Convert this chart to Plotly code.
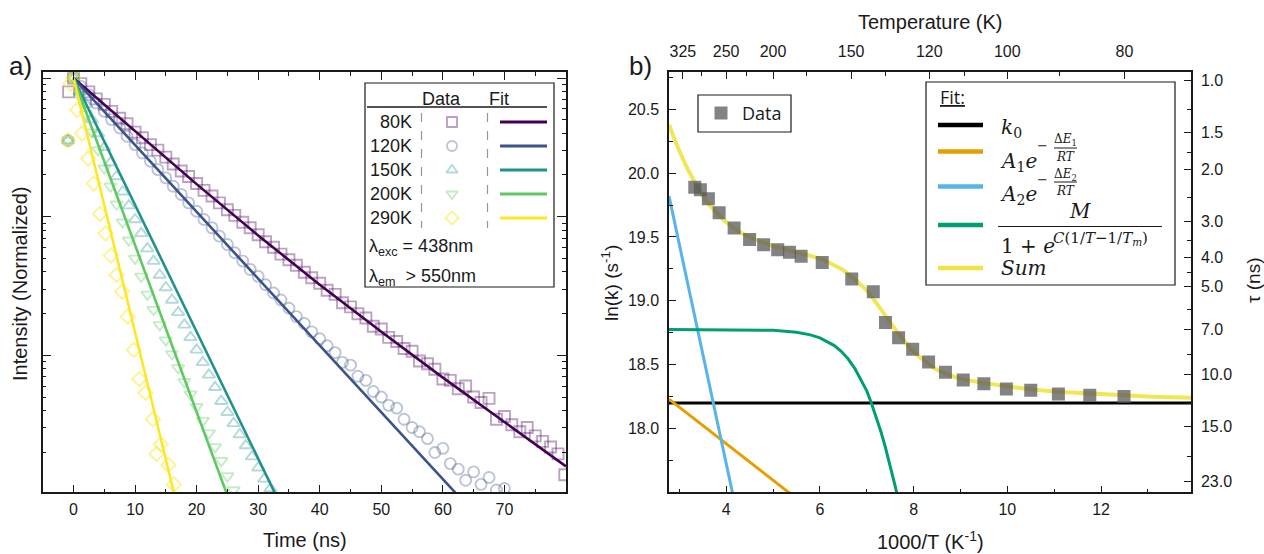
import math
import plotly.graph_objects as go

W, H = 1264, 554


def px(x):
    return x / W


def py(y):
    return 1 - y / H


# ---------------- panel a) : decay traces (time in ns, log10 of normalized intensity) ----------------
t80 = [-0.8, 0.0, 1.2, 2.5, 3.7, 5.0, 6.2, 7.5, 8.7, 10.0, 11.2, 12.5, 13.7, 15.0, 16.2, 17.5, 18.7, 20.0,
       21.2, 22.5, 23.7, 25.0, 26.2, 27.5, 28.7, 30.0, 31.2, 32.5, 33.7, 35.0, 36.2, 37.5, 38.7, 40.0, 41.2,
       42.5, 43.7, 45.0, 46.2, 47.5, 48.7, 50.0, 51.2, 52.5, 53.7, 55.0, 56.2, 57.5, 58.7, 60.0, 61.2, 62.5,
       63.7, 65.0, 66.2, 67.5, 68.7, 70.0, 71.2, 72.5, 73.7, 75.0, 76.2, 77.5, 78.7, 79.8]
log_i80 = [-0.10, 0.0, -0.04, -0.10, -0.15, -0.19, -0.24, -0.29, -0.33, -0.39, -0.43, -0.48, -0.52, -0.57,
           -0.62, -0.67, -0.71, -0.76, -0.81, -0.85, -0.90, -0.95, -0.99, -1.04, -1.08, -1.13, -1.18, -1.22,
           -1.27, -1.31, -1.35, -1.40, -1.44, -1.48, -1.53, -1.56, -1.62, -1.65, -1.70, -1.73, -1.79, -1.81,
           -1.87, -1.90, -1.95, -1.97, -2.04, -2.06, -2.10, -2.17, -2.18, -2.24, -2.22, -2.30, -2.34, -2.31,
           -2.46, -2.44, -2.50, -2.55, -2.52, -2.58, -2.62, -2.66, -2.71, -2.86]

t120 = [-0.9, 0.0, 1.2, 2.5, 3.7, 5.0, 6.2, 7.5, 8.7, 10.0, 11.2, 12.5, 13.7, 15.0, 16.2, 17.5, 18.7, 20.0,
        21.2, 22.5, 23.7, 25.0, 26.2, 27.5, 28.7, 30.0, 31.2, 32.5, 33.7, 35.0, 36.2, 37.5, 38.7, 40.0, 41.2,
        42.5, 43.7, 45.0, 46.2, 47.5, 48.7, 50.0, 51.2, 52.5, 53.7, 55.0, 56.2, 57.5, 58.7, 60.0, 61.2, 62.5,
        63.7, 65.0, 66.2, 67.5, 68.7, 70.0]
log_i120 = [-0.45, 0.0, -0.06, -0.12, -0.18, -0.24, -0.30, -0.36, -0.42, -0.48, -0.54, -0.60, -0.66, -0.72,
            -0.78, -0.84, -0.90, -0.96, -1.02, -1.08, -1.14, -1.20, -1.26, -1.32, -1.38, -1.43, -1.49, -1.55,
            -1.60, -1.66, -1.72, -1.77, -1.83, -1.88, -1.93, -1.98, -2.05, -2.07, -2.15, -2.18, -2.26, -2.30,
            -2.36, -2.38, -2.46, -2.52, -2.55, -2.60, -2.70, -2.67, -2.78, -2.82, -2.90, -2.84, -2.93, -2.88,
            -2.97, -2.96]

t150 = [-0.9, 0.0, 1.0, 2.0, 3.0, 4.0, 5.0, 6.0, 7.0, 8.0, 9.0, 10.0, 11.0, 12.0, 13.0, 14.0, 15.0, 16.0,
        17.0, 18.0, 19.0, 20.0, 21.0, 22.0, 23.0, 24.0, 25.0, 26.0, 27.0, 28.0, 29.0, 30.0, 31.0, 32.0]
log_i150 = [-0.45, 0.0, -0.10, -0.19, -0.30, -0.40, -0.50, -0.61, -0.71, -0.82, -0.92, -1.02, -1.12, -1.23,
            -1.32, -1.42, -1.51, -1.60, -1.69, -1.78, -1.87, -1.96, -2.05, -2.14, -2.23, -2.33, -2.41, -2.49,
            -2.57, -2.65, -2.73, -2.81, -2.89, -2.96]

t200 = [-0.9, 0.0, 1.0, 2.0, 3.0, 4.0, 5.0, 6.0, 7.0, 8.0, 9.0, 10.0, 11.0, 12.0, 13.0, 14.0, 15.0, 16.0,
        17.0, 18.0, 19.0, 20.0, 21.0, 22.0, 23.0, 24.0, 25.0, 26.0]
log_i200 = [-0.45, 0.0, -0.13, -0.26, -0.39, -0.52, -0.65, -0.78, -0.91, -1.04, -1.17, -1.30, -1.43, -1.56,
            -1.67, -1.78, -1.89, -1.99, -2.09, -2.19, -2.28, -2.37, -2.47, -2.56, -2.66, -2.76, -2.87, -2.97]

t290 = [-0.9, -0.5, 0.0, 0.6, 1.4, 2.4, 3.3, 4.3, 5.2, 6.1, 7.0, 7.9, 8.8, 9.8, 10.7, 11.7, 12.9, 13.5, 14.2,
        15.4, 16.3]
log_i290 = [-0.45, -0.04, 0.0, -0.23, -0.40, -0.58, -0.76, -0.98, -1.12, -1.28, -1.42, -1.54, -1.72, -1.96,
            -2.17, -2.27, -2.46, -2.71, -2.64, -2.79, -2.93]

# fitted decays
fit80_t = [0, 10, 20, 30, 40, 50, 60, 70, 80]
fit80_log = [0.0, -0.385, -0.765, -1.135, -1.49, -1.83, -2.16, -2.48, -2.80]
fit120_t = [0, 64.0]
fit120_log = [0.0, -3.085]
fit150_t = [0, 34.0]
fit150_log = [0.0, -3.11]
fit200_t = [0, 26.0]
fit200_log = [0.0, -3.13]
fit290_t = [0, 17.0]
fit290_log = [0.0, -3.116]

series_names = ["80K", "120K", "150K", "200K", "290K"]
line_colors = ["#440154", "#3b528b", "#21918c", "#5ec962", "#fde725"]
marker_colors = ["rgba(68,1,84,0.36)", "rgba(59,82,139,0.34)", "rgba(33,145,140,0.34)",
                 "rgba(94,201,98,0.36)", "rgba(253,231,37,0.5)"]
symbols = ["square-open", "circle-open", "triangle-up-open", "triangle-down-open", "diamond-open"]
data_t = [t80, t120, t150, t200, t290]
data_log = [log_i80, log_i120, log_i150, log_i200, log_i290]
fits_t = [fit80_t, fit120_t, fit150_t, fit200_t, fit290_t]
fits_log = [fit80_log, fit120_log, fit150_log, fit200_log, fit290_log]

# ---------------- panel b) : rates vs 1000/T ----------------
inv_T = [3.33, 3.45, 3.62, 3.85, 4.17, 4.50, 4.80, 5.10, 5.35, 5.60, 6.05, 6.68, 7.14, 7.40, 7.68, 7.98, 8.32,
         8.68, 9.06, 9.50, 9.98, 10.50, 11.09, 11.76, 12.49]
ln_k = [19.89, 19.87, 19.80, 19.69, 19.57, 19.48, 19.44, 19.40, 19.38, 19.35, 19.30, 19.17, 19.07, 18.83, 18.71,
        18.62, 18.52, 18.44, 18.38, 18.35, 18.31, 18.30, 18.27, 18.26, 18.25]

k0_x = [2.78, 13.92]
k0_y = [18.2, 18.2]
a1_x = [2.78, 5.40]
a1_y = [18.23, 17.48]
a2_x = [2.78, 4.15]
a2_y = [19.82, 17.47]
sig_x = [2.78, 5.0, 5.5, 5.8, 6.0, 6.3, 6.45, 6.6, 6.75, 6.9, 7.0, 7.1, 7.2, 7.3, 7.4, 7.5, 7.6, 7.64, 7.75]
sig_y = [18.776, 18.769, 18.754, 18.733, 18.71, 18.651, 18.606, 18.546, 18.468, 18.369, 18.295, 18.198, 18.094,
         17.978, 17.85, 17.713, 17.559, 17.495, 17.31]
sum_x = [2.78, 2.9, 3.0, 3.15, 3.33, 3.45, 3.6, 3.85, 4.0, 4.2, 4.5, 5.0, 5.5, 6.0, 6.5, 7.0, 7.25, 7.5, 7.75,
         8.0, 8.5, 9.0, 10.0, 11.0, 12.0, 13.0, 13.92]
sum_y = [20.38, 20.265, 20.175, 20.054, 19.93, 19.853, 19.77, 19.67, 19.617, 19.56, 19.50, 19.43, 19.38, 19.33,
         19.24, 19.08, 18.96, 18.83, 18.71, 18.60, 18.46, 18.39, 18.33, 18.29, 18.27, 18.25, 18.24]

temp_ticks = [325, 250, 200, 150, 120, 100, 80]
temp_minor = [287.5, 225, 175, 135, 110, 90]
tau_ticks = [1.0, 1.5, 2.0, 3.0, 4.0, 5.0, 7.0, 10.0, 15.0, 23.0]
tau_minor = [1.25, 1.75, 2.5, 3.5, 4.5, 6.0, 8.5, 12.5, 19.0]

comp_colors = ["#000000", "#E69F00", "#56B4E9", "#009E73", "#F0E442"]

SANS = "Liberation Sans, Arial, sans-serif"
SERIF = "DejaVu Serif, Liberation Serif, serif"
LEG = "Open Sans, Liberation Sans, sans-serif"
INK = "#1a1a1a"

fig = go.Figure()

# panel a traces
for i in range(5):
    fig.add_trace(go.Scatter(
        x=data_t[i], y=[10 ** v for v in data_log[i]], mode="markers", xaxis="x", yaxis="y",
        marker=dict(symbol=symbols[i], size=11, color=marker_colors[i],
                    line=dict(color=marker_colors[i], width=1.9)),
        showlegend=False, hoverinfo="skip"))
for i in range(5):
    fig.add_trace(go.Scatter(
        x=fits_t[i], y=[10 ** v for v in fits_log[i]], mode="lines", xaxis="x", yaxis="y",
        line=dict(color=line_colors[i], width=2.6), showlegend=False, hoverinfo="skip"))

# panel b traces
comp_x = [k0_x, a1_x, a2_x, sig_x]
comp_y = [k0_y, a1_y, a2_y, sig_y]
for i in range(4):
    fig.add_trace(go.Scatter(x=comp_x[i], y=comp_y[i], mode="lines", xaxis="x2", yaxis="y2",
                             line=dict(color=comp_colors[i], width=3), showlegend=False, hoverinfo="skip"))
fig.add_trace(go.Scatter(x=sum_x, y=sum_y, mode="lines", xaxis="x2", yaxis="y2",
                         line=dict(color="rgba(240,228,66,0.9)", width=4, shape="spline", smoothing=0.6),
                         showlegend=False, hoverinfo="skip"))
fig.add_trace(go.Scatter(x=inv_T, y=ln_k, mode="markers", xaxis="x2", yaxis="y2",
                         marker=dict(symbol="square", size=13, color="rgba(90,90,90,0.75)", line=dict(width=0)),
                         showlegend=False, hoverinfo="skip"))
# invisible copies so the secondary (temperature / tau) axes get drawn
fig.add_trace(go.Scatter(x=inv_T, y=ln_k, mode="markers", xaxis="x3", yaxis="y2",
                         marker=dict(size=1, opacity=0), showlegend=False, hoverinfo="skip"))
fig.add_trace(go.Scatter(x=inv_T, y=ln_k, mode="markers", xaxis="x2", yaxis="y3",
                         marker=dict(size=1, opacity=0), showlegend=False, hoverinfo="skip"))

# legend key markers (pixel overlay axis)
row_y = [122, 146, 170, 194, 218]
fig.add_trace(go.Scatter(x=[452] * 5, y=row_y, mode="markers", xaxis="x4", yaxis="y4",
                         marker=dict(symbol=symbols, size=10, color=marker_colors,
                                     line=dict(color=marker_colors, width=1.9)),
                         showlegend=False, hoverinfo="skip"))
fig.add_trace(go.Scatter(x=[721], y=[113], mode="markers", xaxis="x4", yaxis="y4",
                         marker=dict(symbol="square", size=13, color="rgba(90,90,90,0.75)", line=dict(width=0)),
                         showlegend=False, hoverinfo="skip"))

shapes = []
annotations = []


def ann(x, y, text, size=16, family=SANS, xanchor="center", yanchor="middle", angle=0, color=INK):
    annotations.append(dict(x=px(x), y=py(y), xref="paper", yref="paper", text=text, showarrow=False,
                            xanchor=xanchor, yanchor=yanchor, textangle=angle,
                            font=dict(size=size, family=family, color=color)))


def hline(x0, x1, y, color, width=1, dash=None):
    d = dict(type="line", xref="paper", yref="paper", x0=px(x0), x1=px(x1), y0=py(y), y1=py(y),
             line=dict(color=color, width=width))
    if dash:
        d["line"]["dash"] = dash
    shapes.append(d)


def vline(x, y0, y1, color, width=1, dash=None):
    d = dict(type="line", xref="paper", yref="paper", x0=px(x), x1=px(x), y0=py(y0), y1=py(y1),
             line=dict(color=color, width=width))
    if dash:
        d["line"]["dash"] = dash
    shapes.append(d)


def rect(x0, y0, x1, y1):
    shapes.append(dict(type="rect", xref="paper", yref="paper", x0=px(x0), x1=px(x1), y0=py(y0), y1=py(y1),
                       line=dict(color=INK, width=1.2), fillcolor="rgba(0,0,0,0)"))


# ---- panel a legend ----
rect(365, 83, 554, 287)
ann(442, 99, "Data", 18)
ann(499, 99, "Fit", 18)
hline(367, 547, 107, INK, 1.5)
vline(421.5, 113, 228, "#8a98ad", 1.2, "dash")
vline(487.5, 113, 228, "#8a98ad", 1.2, "dash")
for i in range(5):
    ann(414, row_y[i], series_names[i], 18, xanchor="right")
    hline(500, 547, row_y[i], line_colors[i], 3)
ann(367, 247, "λ<sub>exc</sub> = 438nm", 18, xanchor="left")
ann(367, 277, "λ<sub>em</sub>  > 550nm", 18, xanchor="left")

# ---- panel b legends ----
rect(698, 95, 791, 132)
ann(740, 113, "Data", 18, family=LEG, xanchor="left")

rect(926, 82, 1175, 285)
ann(938, 97, "<u>Fit:</u>", 18, family=LEG, xanchor="left")
key_y = [125, 151.5, 186.5, 225, 268]
for i in range(5):
    hline(938, 983, key_y[i], comp_colors[i], 4.5)
ann(999, 128, "<i>k</i><sub>0</sub>", 20, SERIF, xanchor="left")
# A1 e^{-dE1/RT}
ann(998, 162, "<i>A</i><sub>1</sub><i>e</i>", 20, SERIF, xanchor="left")
ann(1042, 146, "−", 13, SERIF)
ann(1065, 140, "Δ<i>E</i><sub>1</sub>", 12, SERIF)
hline(1054, 1077, 148, INK, 1)
ann(1065, 157, "<i>RT</i>", 12, SERIF)
# A2 e^{-dE2/RT}
ann(998, 195, "<i>A</i><sub>2</sub><i>e</i>", 20, SERIF, xanchor="left")
ann(1042, 180, "−", 13, SERIF)
ann(1065, 174.5, "Δ<i>E</i><sub>2</sub>", 12, SERIF)
hline(1054, 1077, 182, INK, 1)
ann(1065, 191, "<i>RT</i>", 12, SERIF)
# M / (1 + e^{C(1/T - 1/Tm)})
ann(1080, 211, "<i>M</i>", 20, SERIF)
hline(998, 1162, 226.5, INK, 1.2)
ann(999, 246, "1 + <i>e</i>", 20, SERIF, xanchor="left")
ann(1051, 238, "<i>C</i>(1/<i>T</i>−1/<i>T</i><sub><i>m</i></sub>)", 15, SERIF, xanchor="left")
ann(999, 268, "<i>Sum</i>", 20, SERIF, xanchor="left")

# ---- titles ----
ann(20, 66, "a)", 26)
ann(640, 66, "b)", 26)
ann(20, 284, "Intensity (Normalized)", 20, angle=-90)
ann(305, 540, "Time (ns)", 20)
ann(610, 283, "ln(k) (s<sup>-1</sup>)", 19, angle=-90)
ann(930, 540, "1000/T (K<sup>-1</sup>)", 20)
ann(930, 22, "Temperature (K)", 20)
ann(1253, 280, "τ (ns)", 19, angle=-90)

LEFT = [px(42.7), px(566)]
RIGHT = [px(669), px(1191)]
YDOM = [py(492.3), py(72.3)]

tick_font = dict(size=16, family=SANS, color=INK)
axis_common = dict(showline=True, linecolor=INK, linewidth=1.5, ticks="inside", tickcolor=INK, tickwidth=1.3,
                   showgrid=False, zeroline=False, automargin=False, tickfont=tick_font)

log_minor = [m * 10.0 ** e for e in (-3, -2, -1) for m in range(2, 10)]

fig.update_layout(
    width=W, height=H, margin=dict(l=0, r=0, t=0, b=0),
    paper_bgcolor="white", plot_bgcolor="rgba(0,0,0,0)", template="none", showlegend=False,
    xaxis=dict(domain=LEFT, anchor="y", range=[-5, 80], tickmode="array", tickvals=[0, 10, 20, 30, 40, 50, 60, 70],
               ticklen=8, mirror="ticks", ticklabelstandoff=2,
               minor=dict(tickmode="array", tickvals=[5, 15, 25, 35, 45, 55, 65, 75], ticks="inside", ticklen=4,
                          tickcolor=INK, tickwidth=1.2),
               **axis_common),
    yaxis=dict(domain=YDOM, anchor="x", type="log", range=[-2.987, 0.0414], tickmode="array",
               tickvals=[0.001, 0.01, 0.1, 1], showticklabels=False, ticklen=9, mirror="ticks",
               minor=dict(tickmode="array", tickvals=log_minor, ticks="inside", ticklen=4, tickcolor=INK,
                          tickwidth=1.2),
               **axis_common),
    xaxis2=dict(domain=RIGHT, anchor="y2", range=[2.78, 13.92], tickmode="array", tickvals=[4, 6, 8, 10, 12],
                ticklen=7, ticklabelstandoff=2,
                minor=dict(tickmode="array", tickvals=[3, 5, 7, 9, 11, 13], ticks="inside", ticklen=4,
                           tickcolor=INK, tickwidth=1.2),
                **axis_common),
    yaxis2=dict(domain=YDOM, anchor="x2", range=[17.5, 20.79], tickmode="array",
                tickvals=[18.0, 18.5, 19.0, 19.5, 20.0, 20.5], ticktext=["18.0", "18.5", "19.0", "19.5", "20.0", "20.5"],
                ticklen=7, ticklabelstandoff=5,
                minor=dict(tickmode="array", tickvals=[17.75, 18.25, 18.75, 19.25, 19.75, 20.25, 20.75],
                           ticks="inside", ticklen=4, tickcolor=INK, tickwidth=1.2),
                **axis_common),
    xaxis3=dict(overlaying="x2", side="top", anchor="y2", range=[2.78, 13.92], tickmode="array",
                tickvals=[1000.0 / T for T in temp_ticks], ticktext=[str(T) for T in temp_ticks], ticklen=7,
                ticklabelstandoff=7,
                minor=dict(tickmode="array", tickvals=[1000.0 / T for T in temp_minor], ticks="inside",
                           ticklen=4, tickcolor=INK, tickwidth=1.2),
                **axis_common),
    yaxis3=dict(overlaying="y2", side="right", anchor="x2", range=[17.5, 20.79], tickmode="array",
                tickvals=[math.log(1e9 / tau) for tau in tau_ticks], ticktext=["%.1f" % tau for tau in tau_ticks],
                ticklen=7, ticklabelstandoff=5,
                minor=dict(tickmode="array", tickvals=[math.log(1e9 / tau) for tau in tau_minor], ticks="inside",
                           ticklen=4, tickcolor=INK, tickwidth=1.2),
                **axis_common),
    xaxis4=dict(domain=[0, 1], anchor="y4", range=[0, W], visible=False, fixedrange=True),
    yaxis4=dict(domain=[0, 1], anchor="x4", range=[H, 0], visible=False, fixedrange=True),
    shapes=shapes, annotations=annotations,
)

fig.write_html("out.html", config={"displayModeBar": False},
               post_script="document.body.style.margin='0';document.body.style.overflow='hidden';")
